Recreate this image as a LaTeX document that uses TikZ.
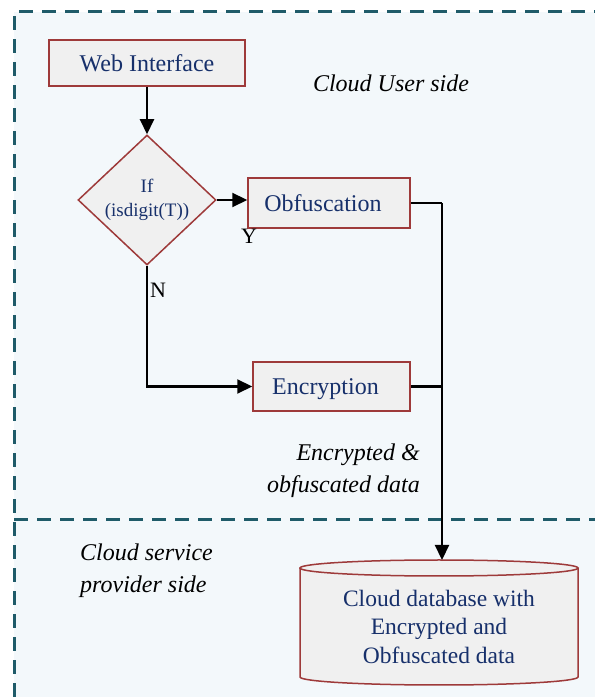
\documentclass[tikz,border=0pt]{standalone}
\usepackage{fontspec}
\setmainfont{Liberation Serif}
\usetikzlibrary{arrows.meta,shapes.geometric}
\definecolor{bgc}{HTML}{F3F8FB}
\definecolor{dashc}{HTML}{1F5B69}
\definecolor{boxred}{HTML}{9E3A3A}
\definecolor{boxfill}{HTML}{F0F0F0}
\definecolor{txtblue}{HTML}{17306B}
\begin{document}
\begin{tikzpicture}[x=1pt,y=1pt,
  border/.style={draw=dashc, line width=3pt, dash pattern=on 14pt off 9pt},
  proc/.style={draw=boxred, fill=boxfill, line width=1.5pt, text=txtblue, font=\fontsize{24}{28}\selectfont, inner sep=0pt},
  conn/.style={line width=2.2pt, draw=black},
  arr/.style={conn, -{Triangle[length=15pt,width=14pt]}},
  lbl/.style={font=\fontsize{24}{32}\selectfont\itshape, inner sep=0pt},
  yn/.style={font=\fontsize{22}{26}\selectfont, inner sep=0pt}]
\useasboundingbox (0,0) rectangle (595,697);
\fill[bgc] (14,0) rectangle (595,685);
\draw[border] (14,0) -- (14,685) -- (595,685);
\draw[border] (14,177) -- (595,177);

\node[proc, minimum width=196pt, minimum height=46pt] (web) at (147,634) {Web Interface};
\node[proc, diamond, minimum width=138pt, minimum height=130pt, aspect=1.06, font=\fontsize{19}{24}\selectfont, align=center] (dec) at (147,497) {If\\(isdigit(T))};
\node[proc, minimum width=162pt, minimum height=50pt] (obf) at (329,494) {\hspace*{-12pt}Obfuscation};
\node[proc, minimum width=157pt, minimum height=49pt] (enc) at (331.5,310.5) {\hspace*{-12pt}\raisebox{-3pt}[\height][\depth]{Encryption}};

% cylinder
\path[fill=boxfill] (300,129) -- (300,20) arc[start angle=180, end angle=360, x radius=139, y radius=8] -- (578,129) arc[start angle=0, end angle=180, x radius=139, y radius=8] -- cycle;
\draw[boxred, line width=1.5pt] (300,129) -- (300,20) arc[start angle=180, end angle=360, x radius=139, y radius=8] -- (578,129);
\draw[boxred, line width=1.5pt] (439,129) ellipse[x radius=139, y radius=8];
\node[text=txtblue, font=\fontsize{23.5}{28.5}\selectfont, align=center, inner sep=0pt] (db) at (439,70.5) {Cloud database with\\Encrypted and\\Obfuscated data};
\coordinate (dbtop) at (442,137);

% connectors
\draw[arr] (web) -- (dec);
\draw[arr] (dec.east) -- (dec.east -| obf.west);
\draw[arr] (dec.south) |- (enc.west);
\draw[conn] (obf.east) -- (obf.east -| dbtop);
\draw[arr] (obf.east -| dbtop) -- (dbtop);
\draw[conn] (enc.east) -- (enc.east -| dbtop);

% labels
\node[yn] (ylab) at (249,461) {Y};
\node[yn] (nlab) at (158,407) {N};
\node[lbl] (user) at (391,614) {Cloud User side};
\node[lbl, align=right, anchor=east] (data) at (420,226) {Encrypted \&\\obfuscated data};
\node[lbl, align=left, anchor=west] (prov) at (80,126) {Cloud service\\provider side};
\end{tikzpicture}
\end{document}
